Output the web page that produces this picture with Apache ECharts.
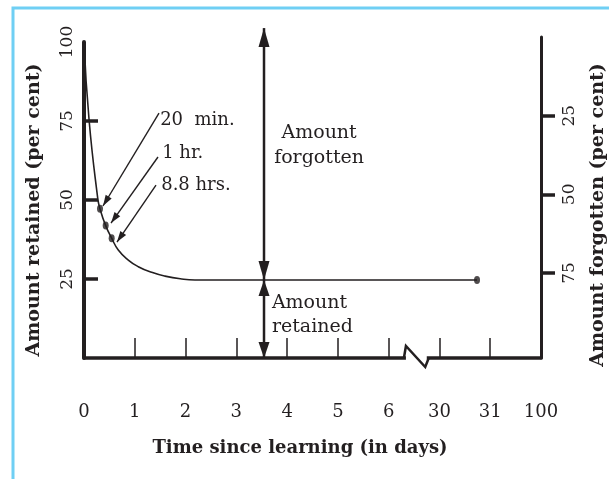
<!DOCTYPE html>
<html><head><meta charset="utf-8">
<script src="https://cdn.jsdelivr.net/npm/echarts@6/dist/echarts.min.js"></script>
<style>html,body{margin:0;padding:0;background:#fff}#c{width:609px;height:479px}</style>
</head><body><div id="c"></div>
<script>
// ---- data ----
const xLabels = ['0','1','2','3','4','5','6','30','31','100'];
const xTickPositions = [1,2,3,4,5,6,7,8];
const retainedCurve = [[0,100],[0.1,75.3],[0.27,50.6],[0.315,47.2],[0.427,41.9],[0.545,37.9],[0.675,34.2],[0.872,31.0],[1.069,28.9],[1.333,27.1],[1.595,25.9],[1.924,25.0],[2.186,24.7],[2.58,24.7],[7.74,24.7]];
const markedPoints = [[0.315,47.2],[0.427,41.9],[0.545,37.9],[7.74,24.7]];
const retainedTicks = [25,50,75];
const retainedLabels = [25,50,75,100];
const forgottenTicks = [25,50,75];
const forgottenLabels = [25,50,75];
const pointNotes = ['20  min.','1 hr.','8.8 hrs.'];
const noteAnchors = [[1.50,75.3],[1.54,64.9],[1.52,54.7]];
const noteArrowFrom = [[1.477,77.5],[1.457,63.6],[1.418,54.7]];
const noteArrowTip = [[0.374,48.1],[0.532,42.7],[0.65,36.7]];
const gapX = 3.545, gapTop = 104.4, gapLevel = 24.7;

const INK = '#231f20';
const FONT = "'DejaVu Serif', serif";
const chart = echarts.init(document.getElementById('c'), null, {renderer:'canvas'});

chart.setOption({
  animation:false,
  backgroundColor:'#fff',
  grid:[
    {left:84, right:68, top:42, bottom:121},
    {left:84, right:68, top:37, bottom:121}
  ],
  xAxis:[
    {type:'value', gridIndex:0, min:0, max:9, interval:1,
     axisLine:{show:true, onZero:false, lineStyle:{color:INK, width:3.5}},
     axisTick:{show:true, inside:true, length:20, lineStyle:{color:INK, width:1.5}, customValues:xTickPositions},
     axisLabel:{margin:45, fontSize:18, fontFamily:FONT, color:INK, formatter:v=>xLabels[v]},
     splitLine:{show:false}},
    {type:'value', gridIndex:1, min:0, max:9, show:false}
  ],
  yAxis:[
    {type:'value', gridIndex:0, min:0, max:100, position:'left',
     axisLine:{show:true, onZero:false, lineStyle:{color:INK, width:4}},
     axisTick:{show:true, inside:true, length:14, lineStyle:{color:INK, width:3.5}, customValues:retainedTicks},
     axisLabel:{rotate:90, margin:8, fontSize:17, fontFamily:FONT, color:INK, customValues:retainedLabels},
     splitLine:{show:false}},
    {type:'value', gridIndex:1, min:0, max:102, inverse:true, position:'right',
     axisLine:{show:true, onZero:false, lineStyle:{color:INK, width:3}},
     axisTick:{show:true, inside:false, length:14, lineStyle:{color:INK, width:3.5}, customValues:forgottenTicks},
     axisLabel:{rotate:90, margin:20, fontSize:17, fontFamily:FONT, color:INK, customValues:forgottenLabels},
     splitLine:{show:false}}
  ],
  series:[
    {type:'line', xAxisIndex:0, yAxisIndex:0, data:retainedCurve, smooth:0.5,
     showSymbol:false, lineStyle:{color:INK, width:1.6}, z:3},
    {type:'scatter', xAxisIndex:0, yAxisIndex:0, data:markedPoints, symbol:'circle', symbolSize:[6,8],
     itemStyle:{color:INK}, z:4}
  ]
});

// ---- annotations placed through the chart's own scales ----
const P = (d) => chart.convertToPixel({gridIndex:0}, d);
function head(tip, from, len, w){
  const dx=tip[0]-from[0], dy=tip[1]-from[1], L=Math.hypot(dx,dy), ux=dx/L, uy=dy/L;
  const bx=tip[0]-ux*len, by=tip[1]-uy*len;
  return {type:'polygon', z:10, shape:{points:[tip,[bx-uy*w/2,by+ux*w/2],[bx+uy*w/2,by-ux*w/2]]}, style:{fill:INK}};
}
function arrow(a, b, lw, len, w, both){
  const A=P(a), B=P(b);
  const out=[{type:'line', z:10, shape:{x1:A[0],y1:A[1],x2:B[0],y2:B[1]}, style:{stroke:INK, lineWidth:lw}}, head(B,A,len,w)];
  if(both) out.push(head(A,B,len,w));
  return out;
}
const g = [];
// frame
g.push({type:'rect', z:0, shape:{x:13,y:8,width:900,height:900}, style:{fill:'none', stroke:'#6fcff4', lineWidth:3}});
// note arrows
for(let i=0;i<3;i++){ g.push(...arrow(noteArrowFrom[i], noteArrowTip[i], 1.4, 11, 7, false)); }
for(let i=0;i<3;i++){ const p=P(noteAnchors[i]);
  g.push({type:'text', z:10, x:p[0], y:p[1], style:{text:pointNotes[i], fill:INK, font:"18px "+FONT, textAlign:'left', textVerticalAlign:'middle'}}); }
// gap arrows
g.push(...arrow([gapX,gapLevel],[gapX,gapTop],2.5,19,11,true));
g.push(...arrow([gapX,gapLevel],[gapX,0],2.5,16,11,true));
// gap texts
{ const p=P([4.63,67.1]); g.push({type:'text', z:10, x:p[0], y:p[1], style:{text:'Amount\nforgotten', fill:INK, font:"19px "+FONT, lineHeight:25, textAlign:'center', textVerticalAlign:'middle'}}); }
{ const p=P([3.70,13.6]); g.push({type:'text', z:10, x:p[0], y:p[1], style:{text:'Amount\nretained', fill:INK, font:"19px "+FONT, lineHeight:24, textAlign:'left', textVerticalAlign:'middle'}}); }
// axis break zigzag
{ const a=P([6.32,0]), b=P([6.34,3.8]), c=P([6.72,-2.85]), d=P([6.77,0]);
  g.push({type:'rect', z:8, shape:{x:a[0]+1, y:a[1]-4, width:d[0]-a[0]-2, height:8}, style:{fill:'#fff'}});
  g.push({type:'polyline', z:9, shape:{points:[[a[0]-1,a[1]],b,c,[d[0]+1,d[1]]]}, style:{stroke:INK, lineWidth:2.5, fill:'none'}}); }
// axis names
g.push({type:'text', z:10, x:34, y:210, rotation:Math.PI/2, style:{text:'Amount retained (per cent)', fill:INK, font:"bold 19px "+FONT, textAlign:'center', textVerticalAlign:'middle'}});
g.push({type:'text', z:10, x:598, y:215, rotation:Math.PI/2, style:{text:'Amount forgotten (per cent)', fill:INK, font:"bold 19px "+FONT, textAlign:'center', textVerticalAlign:'middle'}});
g.push({type:'text', z:10, x:300, y:448, style:{text:'Time since learning (in days)', fill:INK, font:"bold 18px "+FONT, textAlign:'center', textVerticalAlign:'middle'}});
chart.setOption({graphic:g});
</script></body></html>
